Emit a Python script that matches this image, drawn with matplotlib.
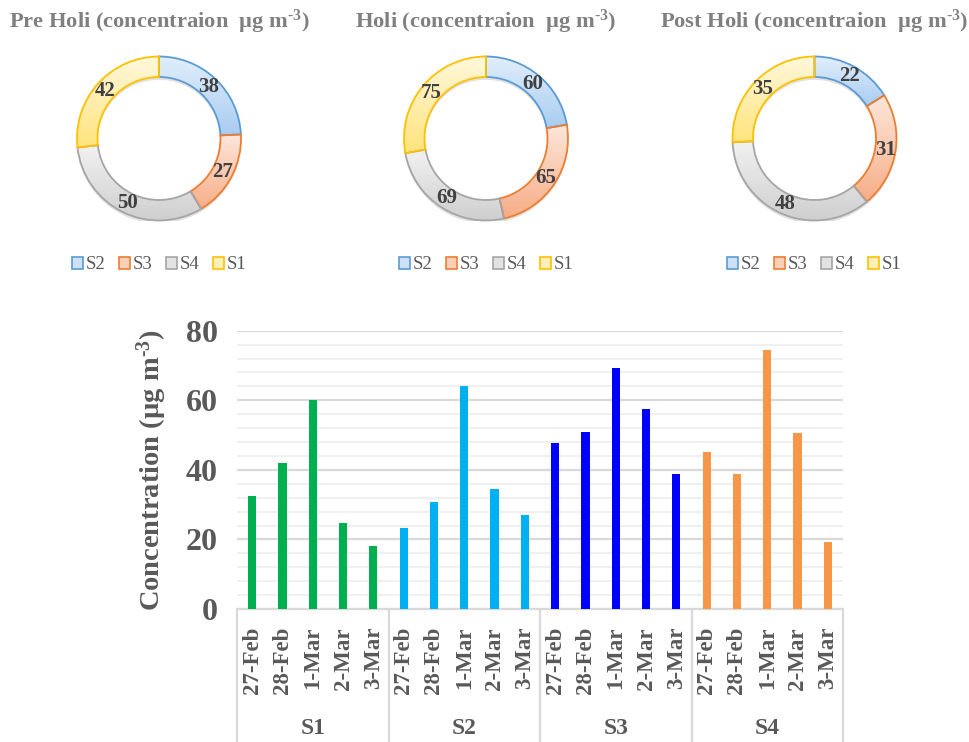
import matplotlib
matplotlib.use("Agg")
import matplotlib.pyplot as plt
import matplotlib.transforms as mtransforms
from matplotlib.colors import LinearSegmentedColormap
from matplotlib.patches import Patch, Wedge
import numpy as np

plt.rcParams.update({
    "font.family": ["Liberation Serif", "DejaVu Serif"],
    "mathtext.fontset": "custom",
    "mathtext.rm": "Liberation Serif:bold",
    "mathtext.bf": "Liberation Serif:bold",
    "mathtext.it": "Liberation Serif:italic",
})

# ring charts
ring_titles = ["Pre Holi", "Holi", "Post Holi"]
ring_sites = ["S2", "S3", "S4", "S1"]
ring_values = {
    "Pre Holi": [38, 27, 50, 42],
    "Holi": [60, 65, 69, 75],
    "Post Holi": [22, 31, 48, 35],
}

# daily bars
sites = ["S1", "S2", "S3", "S4"]
days = ["27-Feb", "28-Feb", "1-Mar", "2-Mar", "3-Mar"]
s1_vals = [32.5, 42.0, 60.0, 24.8, 18.2]
s2_vals = [23.4, 30.8, 64.2, 34.6, 27.0]
s3_vals = [47.8, 50.9, 69.3, 57.6, 38.8]
s4_vals = [45.2, 38.7, 74.5, 50.5, 19.4]

# (top, bottom) of each wedge's vertical gradient
RING_GRAD = {
    "S2": ("#e2effb", "#a8ccf1"),
    "S3": ("#fde7db", "#f7ad86"),
    "S4": ("#f2f2f2", "#cfcfcf"),
    "S1": ("#fff8dc", "#ffe47c"),
}
RING_FILL = {"S2": "#cde1f6", "S3": "#fbd0b8", "S4": "#e2e2e2", "S1": "#fff0b8"}
RING_EDGE = {"S2": "#5b9bd5", "S3": "#ed7d31", "S4": "#a5a5a5", "S1": "#ffc000"}
BAR_COLORS = ["#00b050", "#00b0f0", "#0000ff", "#f79646"]
TEXT = "#595959"
TITLE = "#808080"
GRID_MAJOR = "#d9d9d9"
GRID_MINOR = "#f0f0f0"
SUP = r"$^{\text{-}3}$"

W, H = 970, 742
fig = plt.figure(figsize=(W / 100, H / 100), dpi=100)
ramp = np.linspace(0, 1, 256).reshape(-1, 1)

centers_x = [159, 486, 814.5]
cy, r = 138.5, 82
for name, cx in zip(ring_titles, centers_x):
    ax = fig.add_axes([(cx - r) / W, 1 - (cy + r) / H, 2 * r / W, 2 * r / H])
    # soft shadow under the ring
    ax.add_patch(Wedge((0, -0.035), 1.0, 0, 360, width=0.25,
                       facecolor="#bdbdbd", edgecolor="none", alpha=0.45, zorder=0))
    vals = ring_values[name]
    wedges, texts = ax.pie(
        vals,
        labels=[str(v) for v in vals],
        labeldistance=0.875,
        startangle=90,
        counterclock=False,
        colors=[RING_FILL[s] for s in ring_sites],
        wedgeprops=dict(width=0.25, linewidth=1.3),
        textprops=dict(fontsize=15, fontweight="bold", color="#404040",
                       ha="center", va="center"),
    )
    for w, s in zip(wedges, ring_sites):
        w.set_edgecolor(RING_EDGE[s])
        w.set_zorder(2)
        ext = w.get_path().get_extents()
        cmap = LinearSegmentedColormap.from_list(s, RING_GRAD[s])
        im = ax.imshow(ramp, cmap=cmap, aspect="auto", origin="upper",
                       extent=(ext.x0, ext.x1, ext.y0, ext.y1), zorder=1)
        im.set_clip_path(w)
        w.set_facecolor("none")
    for t in texts:
        t.set_zorder(3)
    ax.set_xlim(-1, 1)
    ax.set_ylim(-1, 1)
    ax.set_aspect("equal")
    ax.axis("off")
    handles = [Patch(facecolor=RING_FILL[s], edgecolor=RING_EDGE[s], lw=1.2) for s in ring_sites]
    leg = ax.legend(handles, ring_sites, loc="center", bbox_to_anchor=(0.5, -0.27),
                    ncol=4, frameon=False, fontsize=13.5, handlelength=0.6,
                    handleheight=0.6, handletextpad=0.15, columnspacing=0.7,
                    borderaxespad=0)
    for t in leg.get_texts():
        t.set_color(TEXT)
    fig.text(cx / W, 1 - 22 / H, name + " (concentraion  µg m" + SUP + ")",
             ha="center", va="center", fontsize=16.2, fontweight="bold", color=TITLE)

# bar chart
left, right, bottom, top = 237, 843, 609, 330.7
ax = fig.add_axes([left / W, 1 - bottom / H, (right - left) / W, (bottom - top) / H])
heights = s1_vals + s2_vals + s3_vals + s4_vals
colors = [c for c in BAR_COLORS for _ in days]
x = np.arange(len(heights))
ax.bar(x, heights, width=0.27, color=colors, zorder=3)

ax.set_xlim(-0.5, len(heights) - 0.5)
ax.set_ylim(0, 80)
ax.set_yticks(np.arange(0, 81, 20))
ax.set_yticks(np.arange(0, 81, 4), minor=True)
ax.grid(which="major", axis="y", color=GRID_MAJOR, lw=1.6, zorder=1)
ax.grid(which="minor", axis="y", color=GRID_MINOR, lw=1.5, zorder=0)
ax.set_axisbelow(True)
ax.tick_params(which="both", length=0)
ax.tick_params(axis="y", pad=14, labelsize=23, labelcolor=TEXT)
for lab in ax.get_yticklabels():
    lab.set_fontweight("bold")
ax.set_xticks(x)
ax.set_xticklabels(days * len(sites), rotation=90, fontsize=16.5,
                   fontweight="bold", color=TEXT, va="top")
ax.tick_params(axis="x", pad=13)
for side in ("top", "right", "left"):
    ax.spines[side].set_visible(False)
ax.spines["bottom"].set_color(GRID_MAJOR)
ax.spines["bottom"].set_linewidth(1.6)

ax.set_ylabel("Concentration (µg m" + SUP + ")", fontsize=20.5,
              fontweight="bold", color=TEXT)
ax.yaxis.set_label_coords(-0.113, 0.5)

# group separators and site labels below the axis
trans = mtransforms.blended_transform_factory(ax.transData, ax.transAxes)
n = len(days)
for i in range(len(sites) + 1):
    xb = i * n - 0.5
    ax.plot([xb, xb], [0, -0.5], transform=trans, color=GRID_MAJOR, lw=1.6, clip_on=False)
for i, s in enumerate(sites):
    ax.text(i * n + (n - 1) / 2, -0.43, s, transform=trans, ha="center", va="center",
            fontsize=17, fontweight="bold", color=TEXT)

fig.savefig("out.png", dpi=100, facecolor="white")
